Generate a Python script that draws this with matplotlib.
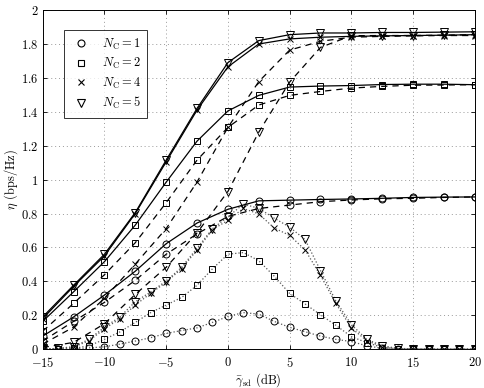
import matplotlib

matplotlib.use("Agg")
import matplotlib.pyplot as plt
from matplotlib.lines import Line2D
from matplotlib.ticker import FuncFormatter

plt.rcParams["mathtext.fontset"] = "cm"
plt.rcParams["font.family"] = "serif"
plt.rcParams["font.serif"] = ["cmr10", "DejaVu Serif"]
plt.rcParams["axes.unicode_minus"] = False

# SNR grids (dB)
snr_coarse = [-15, -12.5, -10, -7.5, -5, -2.5, 0, 2.5, 5, 7.5, 10, 12.5, 15, 17.5, 20]
snr_fine = [-15, -13.75, -12.5, -11.25, -10, -8.75, -7.5, -6.25, -5, -3.75,
            -2.5, -1.25, 0, 1.25, 2.5, 3.75, 5, 6.25, 7.5, 8.75, 10, 11.25,
            12.5, 13.75, 15, 16.25, 17.5, 18.75, 20]

# solid curves
solid_nc1 = [0.077, 0.19, 0.319, 0.46, 0.622, 0.744, 0.825, 0.875, 0.879, 0.883, 0.886, 0.89, 0.895, 0.897, 0.898]
solid_nc2 = [0.164, 0.338, 0.516, 0.732, 0.985, 1.227, 1.405, 1.497, 1.546, 1.552, 1.555, 1.561, 1.563, 1.563, 1.56]
solid_nc4 = [0.18, 0.37, 0.55, 0.80, 1.105, 1.41, 1.665, 1.80, 1.83, 1.84, 1.845, 1.848, 1.85, 1.852, 1.855]
solid_nc5 = [0.19, 0.377, 0.56, 0.806, 1.115, 1.42, 1.69, 1.82, 1.855, 1.865, 1.865, 1.868, 1.868, 1.87, 1.872]

# dashed curves
dashed_nc1 = [0.048, 0.164, 0.276, 0.406, 0.56, 0.68, 0.783, 0.83, 0.85, 0.87, 0.88, 0.887, 0.89, 0.895, 0.898]
dashed_nc2 = [0.106, 0.27, 0.439, 0.628, 0.864, 1.115, 1.308, 1.44, 1.497, 1.52, 1.54, 1.55, 1.557, 1.558, 1.56]
dashed_nc4 = [0.03, 0.13, 0.3, 0.502, 0.711, 0.986, 1.308, 1.578, 1.764, 1.816, 1.84, 1.845, 1.848, 1.85, 1.85]
dashed_nc5 = [0.01, 0.04, 0.15, 0.323, 0.483, 0.686, 0.93, 1.28, 1.575, 1.78, 1.849, 1.85, 1.85, 1.852, 1.855]

# dotted curves
dotted_nc1 = [0, 0, 0.002, 0.008, 0.014, 0.03, 0.048, 0.068, 0.093, 0.11, 0.126, 0.158, 0.193, 0.216,
              0.207, 0.164, 0.129, 0.103, 0.077, 0.058, 0.045, 0.02, 0.005, 0.001, 0, 0, 0, 0, 0]
dotted_nc2 = [0, 0, 0.005, 0.02, 0.058, 0.102, 0.158, 0.216, 0.26, 0.305, 0.377, 0.474, 0.56, 0.57,
              0.522, 0.431, 0.329, 0.267, 0.203, 0.141, 0.074, 0.039, 0.01, 0.003, 0.001, 0, 0, 0, 0]
dotted_nc4 = [0, 0.004, 0.012, 0.05, 0.12, 0.18, 0.26, 0.33, 0.395, 0.475, 0.585, 0.705, 0.76, 0.83,
              0.798, 0.715, 0.671, 0.586, 0.435, 0.27, 0.125, 0.05, 0.015, 0.004, 0.001, 0, 0, 0, 0]
dotted_nc5 = [0, 0.005, 0.015, 0.058, 0.13, 0.19, 0.28, 0.338, 0.402, 0.483, 0.595, 0.711, 0.78, 0.856,
              0.831, 0.773, 0.72, 0.647, 0.464, 0.284, 0.145, 0.058, 0.02, 0.005, 0.002, 0, 0, 0, 0]

markers = ["o", "s", "x", "v"]
labels = [r"$N_{\mathrm{C}} = 1$", r"$N_{\mathrm{C}} = 2$",
          r"$N_{\mathrm{C}} = 4$", r"$N_{\mathrm{C}} = 5$"]
msizes = [5, 4.5, 4, 5.5]

fig = plt.figure(figsize=(4.85, 3.88), dpi=100)
ax = fig.add_axes([0.088, 0.1, 0.891, 0.874])

groups = [
    (snr_fine, [dotted_nc1, dotted_nc2, dotted_nc4, dotted_nc5], ":", "0.35"),
    (snr_coarse, [dashed_nc1, dashed_nc2, dashed_nc4, dashed_nc5], (0, (5, 4)), "black"),
    (snr_coarse, [solid_nc1, solid_nc2, solid_nc4, solid_nc5], "-", "black"),
]
for xs, curves, ls, col in groups:
    for ys, m, ms in zip(curves, markers, msizes):
        ax.plot(xs, ys, linestyle=ls, color=col, linewidth=0.9,
                marker=m, markersize=ms, markerfacecolor="none",
                markeredgecolor="black", markeredgewidth=0.7)

ax.set_xlim(-15, 20)
ax.set_ylim(0, 2)
ax.set_xticks([-15, -10, -5, 0, 5, 10, 15, 20])
ax.set_yticks([0, 0.2, 0.4, 0.6, 0.8, 1, 1.2, 1.4, 1.6, 1.8, 2])
fmt = FuncFormatter(lambda v, pos: f"${v:g}$")
ax.xaxis.set_major_formatter(fmt)
ax.yaxis.set_major_formatter(fmt)
ax.tick_params(direction="in", top=True, right=True, labelsize=9, length=3,
               width=0.6)
ax.tick_params(axis="x", pad=5)
ax.tick_params(axis="y", pad=3)
ax.grid(True, linestyle=(0, (1, 3)), color="0.6", linewidth=0.7)
for s in ax.spines.values():
    s.set_linewidth(0.7)

ax.set_xlabel(r"$\bar{\gamma}_{\rm sd}$ (dB)", fontsize=9, labelpad=1)
ax.set_ylabel(r"$\eta$ (bps/Hz)", fontsize=9, labelpad=1)

handles = [Line2D([], [], linestyle="none", marker=m, markersize=ms,
                  markerfacecolor="none", markeredgecolor="black", markeredgewidth=0.8)
           for m, ms in zip(markers, msizes)]
leg = ax.legend(handles, labels, loc="upper left", bbox_to_anchor=(0.05, 0.94),
                fontsize=9, frameon=True, fancybox=False, edgecolor="black",
                borderpad=0.5, labelspacing=0.35, handletextpad=0.9, handlelength=1.6,
                borderaxespad=0)
leg.get_frame().set_linewidth(0.7)

fig.savefig("out.png", dpi=100)
